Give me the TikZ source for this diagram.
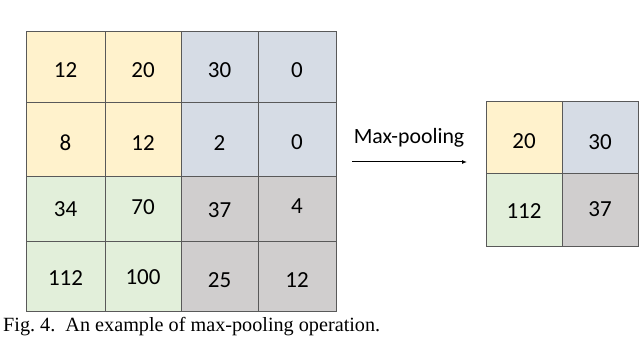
\documentclass[tikz,border=0pt]{standalone}
\usepackage{fontspec}
\usetikzlibrary{arrows.meta}
\setmainfont{Liberation Serif}
\newfontfamily\cellfont{Carlito}
\definecolor{cyel}{HTML}{FFF2CC}
\definecolor{cblu}{HTML}{D6DCE5}
\definecolor{cgrn}{HTML}{E2EFDA}
\definecolor{cgry}{HTML}{D0CECE}
\definecolor{cline}{HTML}{595959}
\tikzset{
  frame/.style={draw=cline, line width=1pt},
  num/.style={font=\cellfont\fontsize{23}{26}\selectfont, inner sep=0pt},
}
\begin{document}
\begin{tikzpicture}[x=1pt,y=-1pt]
\useasboundingbox[fill=white] (0,0) rectangle (640,339);
% left grid
\def\xa{26}\def\xb{105}\def\xc{181}\def\xd{258}\def\xe{336}
\def\ya{31.5}\def\yb{102.5}\def\yc{176.5}\def\yd{241.5}\def\ye{311}
\fill[cyel] (\xa,\ya) rectangle (\xc,\yc);
\fill[cblu] (\xc,\ya) rectangle (\xe,\yc);
\fill[cgrn] (\xa,\yc) rectangle (\xc,\ye);
\fill[cgry] (\xc,\yc) rectangle (\xe,\ye);
\foreach \x in {\xb,\xc,\xd} \draw[cline, line width=0.6pt] (\x,\ya) -- (\x,\ye);
\foreach \y in {\yb,\yc,\yd} \draw[cline, line width=0.6pt] (\xa,\y) -- (\xe,\y);
\draw[frame] (\xa,\ya) rectangle (\xe,\ye);
\node[num] (a11) at (65.5,70) {12};
\node[num] (a12) at (143,70) {20};
\node[num] (a13) at (219.5,70) {30};
\node[num] (a14) at (297,70) {0};
\node[num] (a21) at (65.5,143) {8};
\node[num] (a22) at (143,143) {12};
\node[num] (a23) at (219.5,143) {2};
\node[num] (a24) at (297,142) {0};
\node[num] (a31) at (65.5,209) {34};
\node[num] (a32) at (143,207) {70};
\node[num] (a33) at (219.5,210) {37};
\node[num] (a34) at (297,206) {4};
\node[num] (a41) at (65.5,278) {112};
\node[num] (a42) at (143,277) {100};
\node[num] (a43) at (219.5,280) {25};
\node[num] (a44) at (297,280) {12};
% right grid
\def\ra{486}\def\rb{562.5}\def\rc{638}
\def\sa{101.5}\def\sb{173.5}\def\sc{246.5}
\fill[cyel] (\ra,\sa) rectangle (\rb,\sb);
\fill[cblu] (\rb,\sa) rectangle (\rc,\sb);
\fill[cgrn] (\ra,\sb) rectangle (\rb,\sc);
\fill[cgry] (\rb,\sb) rectangle (\rc,\sc);
\draw[cline, line width=0.6pt] (\rb,\sa) -- (\rb,\sc);
\draw[cline, line width=0.6pt] (\ra,\sb) -- (\rc,\sb);
\draw[frame] (\ra,\sa) rectangle (\rc,\sc);
\node[num] (b11) at (524,141) {20};
\node[num] (b12) at (600,142) {30};
\node[num] (b21) at (524,211) {112};
\node[num] (b22) at (600,209) {37};
% arrow
\coordinate (arrS) at (352,162);
\coordinate (arrE) at (467,162);
\draw[line width=1pt, -{Latex[length=5pt,width=4pt]}] (arrS) -- (arrE);
\node[num, font=\cellfont\fontsize{21.8}{24}\selectfont] (lbl) at (409,138) {Max-pooling};
% caption
\node[anchor=base west, inner sep=0pt, font=\fontsize{20.2}{22}\selectfont] (cap) at (3,331) {Fig.~4.\ \ An example of max-pooling operation.};
\end{tikzpicture}
\end{document}
